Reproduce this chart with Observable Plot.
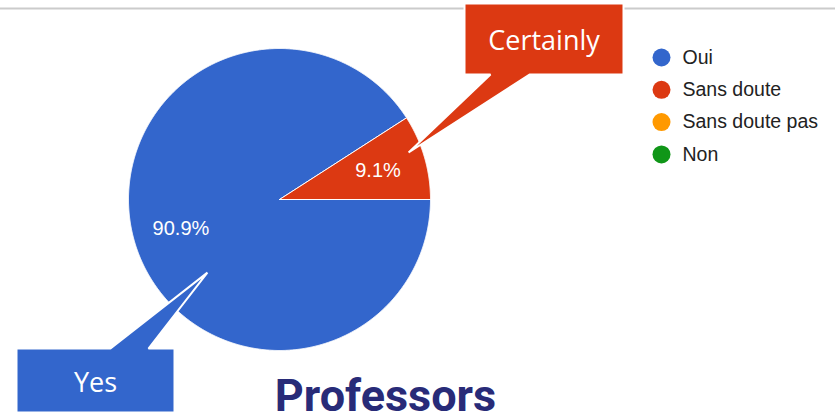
<!DOCTYPE html>
<html>
<head>
<meta charset="utf-8">
<script src="https://cdn.jsdelivr.net/npm/d3@7"></script>
<script src="https://cdn.jsdelivr.net/npm/@observablehq/plot@0.6"></script>
<style>
  html, body { margin: 0; padding: 0; background: #ffffff; }
  #chart { width: 835px; height: 415px; overflow: hidden; }
</style>
</head>
<body>
<div id="chart"></div>
<script>
// Answers given by professors
const categories = ["Oui", "Sans doute", "Sans doute pas", "Non"];
const counts = [10, 1, 0, 0];
const colors = ["#3366cc", "#dc3912", "#ff9900", "#109618"];
const title = "Professors";

// English callouts and the answer each one points at
const calloutLabels = ["Certainly", "Yes"];
const calloutCategories = ["Sans doute", "Oui"];

// ---- layout (pixels) ----
const W = 835, H = 415;
const pie = {cx: 279, cy: 199, r: 151, start: Math.PI / 2};
const labelRadius = 0.68;
const legend = {x: 661, y: 57, step: 32.3, r: 9, textGap: 21};
const calloutBoxes = [
  {x1: 464, y1: 3, x2: 623, y2: 74, b1: 490, b2: 529, tipAngle: 70, tipRadius: 0.91, textY: 49},
  {x1: 16, y1: 348, x2: 174, y2: 412, b1: 110, b2: 148, tipAngle: 224.6, tipRadius: 0.68, textY: 391}
];
const titlePos = {x: 385, y: 410};
const ruleTop = 8;

// ---- geometry from the counts ----
const total = d3.sum(counts);
const arcs = d3.pie().sort(null)
  .startAngle(pie.start).endAngle(pie.start + 2 * Math.PI)(counts);

const pt = (a, rf) => ({x: pie.cx + pie.r * rf * Math.sin(a), y: pie.cy - pie.r * rf * Math.cos(a)});

const slicePoints = [];
arcs.forEach((arc) => {
  if (arc.value <= 0) return;
  const key = categories[arc.index];
  slicePoints.push({key, ...pt(0, 0)});
  const n = Math.max(2, Math.ceil((arc.endAngle - arc.startAngle) / (Math.PI / 720)));
  for (let i = 0; i <= n; ++i) {
    const a = arc.startAngle + (arc.endAngle - arc.startAngle) * i / n;
    slicePoints.push({key, ...pt(a, 1)});
  }
  slicePoints.push({key, ...pt(0, 0)});
});

const sliceLabels = arcs.filter((a) => a.value > 0).map((a) => ({
  text: d3.format(".1%")(a.value / total),
  ...pt((a.startAngle + a.endAngle) / 2, labelRadius)
}));

// callout shapes: box with a pointer running to a spot on the pie
const calloutPoints = [];
const calloutTexts = [];
calloutLabels.forEach((label, i) => {
  const b = calloutBoxes[i];
  const tip = pt(b.tipAngle * Math.PI / 180, b.tipRadius);
  const cat = calloutCategories[i];
  let poly;
  if (tip.y < b.y1) {
    poly = [[b.x1, b.y1], [b.b1, b.y1], [tip.x, tip.y], [b.b2, b.y1], [b.x2, b.y1], [b.x2, b.y2], [b.x1, b.y2], [b.x1, b.y1]];
  } else {
    poly = [[b.x1, b.y1], [b.x2, b.y1], [b.x2, b.y2], [b.b2, b.y2], [tip.x, tip.y], [b.b1, b.y2], [b.x1, b.y2], [b.x1, b.y1]];
  }
  poly.forEach(([x, y]) => calloutPoints.push({label, cat, x, y}));
  calloutTexts.push({label, x: (b.x1 + b.x2) / 2, y: b.textY});
});

const legendRows = categories.map((c, i) => ({key: c, x: legend.x, y: legend.y + i * legend.step}));

const chart = Plot.plot({
  width: W,
  height: H,
  margin: 0,
  x: {domain: [0, W], range: [0, W], axis: null},
  y: {domain: [0, H], range: [0, H], axis: null},
  color: {domain: categories, range: colors},
  style: {fontFamily: "Arial, 'Liberation Sans', sans-serif", background: "#ffffff"},
  marks: [
    Plot.ruleY([ruleTop], {stroke: "#cbcbcb", strokeWidth: 2}),
    Plot.line(slicePoints, {x: "x", y: "y", z: "key", fill: "key", stroke: "#ffffff", strokeWidth: 1, strokeLinejoin: "round", curve: "linear"}),
    Plot.text(sliceLabels, {x: "x", y: "y", text: "text", fill: "#ffffff", fontSize: 20, fontFamily: "Arial, 'Liberation Sans', sans-serif"}),
    Plot.line(calloutPoints, {x: "x", y: "y", z: "label", fill: "cat", stroke: "#ffffff", strokeWidth: 2, strokeLinejoin: "miter"}),
    Plot.text(calloutTexts, {x: "x", y: "y", text: "label", fill: "#ffffff", fontSize: 27, lineAnchor: "bottom", fontFamily: "'Open Sans', Lato, sans-serif"}),
    Plot.dot(legendRows, {x: "x", y: "y", fill: "key", r: legend.r, stroke: null}),
    Plot.text(legendRows, {x: (d) => d.x + legend.textGap, y: "y", text: "key", fill: "#222222", fontSize: 19.5, textAnchor: "start", fontFamily: "Arial, 'Liberation Sans', sans-serif"}),
    Plot.text([{label: title, ...titlePos}], {x: "x", y: "y", text: "label", fill: "#282b78", fontSize: 45, fontWeight: "bold", lineAnchor: "bottom", fontFamily: "Roboto, sans-serif"})
  ]
});

document.getElementById("chart").appendChild(chart);
</script>
</body>
</html>
